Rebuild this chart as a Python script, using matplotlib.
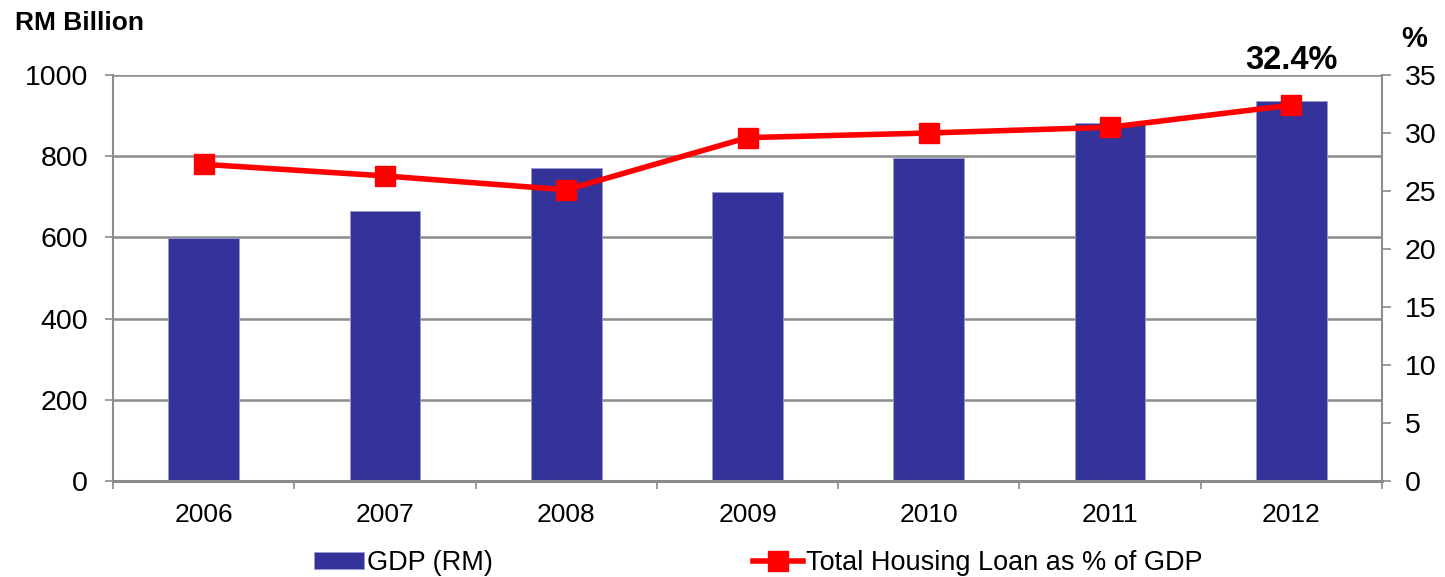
import numpy as np
import matplotlib.pyplot as plt
from matplotlib.ticker import FixedLocator, NullFormatter

plt.rcParams['font.family'] = ['Liberation Sans', 'DejaVu Sans']

# Data
years = ['2006', '2007', '2008', '2009', '2010', '2011', '2012']
gdp = [598, 666, 770, 713, 796, 881, 937]
housing_pct = [27.3, 26.3, 25.1, 29.6, 30.0, 30.5, 32.4]

bar_color = '#333399'
line_color = '#ff0000'
grid_color = '#8c8c8c'

fig = plt.figure(figsize=(14.45, 5.77), dpi=100)
ax = fig.add_axes([113 / 1445, 1 - 481 / 577, (1382 - 113) / 1445, (481 - 75) / 577])

x = np.arange(len(years))
ax.bar(x, gdp, width=0.39, color=bar_color, edgecolor='#9a9ad0', linewidth=0.6,
       label='GDP (RM)', zorder=2)

ax.set_xlim(-0.5, len(years) - 0.5)
ax.set_ylim(0, 1000)
ax.set_yticks(np.arange(0, 1001, 200))
ax.set_axisbelow(True)
ax.yaxis.grid(True, color=grid_color, linewidth=1.8)

ax.set_xticks(x)
ax.set_xticklabels(years, fontsize=19)
ax.xaxis.set_minor_locator(FixedLocator(np.arange(-0.5, len(years), 1.0)))
ax.xaxis.set_minor_formatter(NullFormatter())
ax.tick_params(axis='x', which='major', length=0, pad=16)
ax.tick_params(axis='x', which='minor', length=6, width=1.2, color=grid_color)
ax.tick_params(axis='y', labelsize=20.5, length=6, width=1.2, color=grid_color, pad=12)

for side in ['left', 'bottom']:
    ax.spines[side].set_color(grid_color)
ax.spines['left'].set_linewidth(1.5)
ax.spines['bottom'].set_linewidth(2.2)
ax.spines['top'].set_visible(False)
ax.spines['right'].set_visible(False)

ax2 = ax.twinx()
ax2.plot(x, housing_pct, color=line_color, linewidth=4.0, marker='s', markersize=14,
         label='Total Housing Loan as % of GDP', zorder=3)
ax2.set_ylim(0, 35)
ax2.set_yticks(np.arange(0, 36, 5))
ax2.tick_params(axis='y', labelsize=20.5, length=6.5, width=1.2, color=grid_color, pad=10)
for side in ['left', 'top', 'bottom']:
    ax2.spines[side].set_visible(False)
ax2.spines['right'].set_color(grid_color)
ax2.spines['right'].set_linewidth(1.5)

ax2.annotate(f"{housing_pct[-1]}%", xy=(x[-1], housing_pct[-1]), xytext=(0, 26),
             textcoords='offset points', ha='center', va='baseline',
             fontsize=23.5, fontweight='bold', annotation_clip=False)

fig.text(15 / 1445, 1 - 11 / 577, 'RM Billion', fontsize=19, fontweight='bold',
         ha='left', va='top')
fig.text(1414 / 1445, 1 - 53 / 577, '%', fontsize=21, fontweight='bold',
         ha='center', va='bottom')

h1, l1 = ax.get_legend_handles_labels()
h2, l2 = ax2.get_legend_handles_labels()
fig.legend(h1 + h2, l1 + l2, loc='center', bbox_to_anchor=(758 / 1445, 1 - 563 / 577),
           ncol=2, frameon=False, fontsize=19.5, handlelength=1.85, handleheight=0.55,
           handletextpad=0.1, columnspacing=9.6, borderaxespad=0)

fig.savefig('out.png', dpi=100)
